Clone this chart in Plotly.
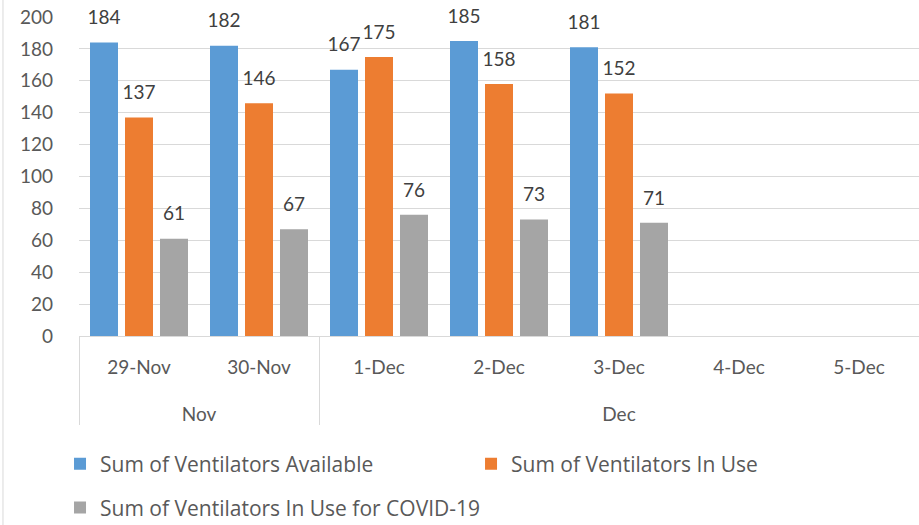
import plotly.graph_objects as go

months = ["Nov", "Nov", "Dec", "Dec", "Dec", "Dec", "Dec"]
days = ["29-Nov", "30-Nov", "1-Dec", "2-Dec", "3-Dec", "4-Dec", "5-Dec"]
available = [184, 182, 167, 185, 181, None, None]
in_use = [137, 146, 175, 158, 152, None, None]
covid = [61, 67, 76, 73, 71, None, None]

series = [
    ("Sum of Ventilators Available", available, "#5b9bd5", "legend"),
    ("Sum of Ventilators In Use", in_use, "#ed7d31", "legend2"),
    ("Sum of Ventilators In Use for COVID-19", covid, "#a5a5a5", "legend3"),
]

FONT = "Lato"
LEGFONT = "Open Sans"
SPAN = "<span style='font-size:19px'>{}</span>"
day_labels = [SPAN.format(d) + "<br> " for d in days]
month_labels = [SPAN.format(m) for m in months]
x_cats = [month_labels, day_labels]

fig = go.Figure()
for i, (name, vals, color, leg) in enumerate(series):
    fig.add_trace(go.Bar(
        x=x_cats, y=vals, name=name, legend=leg, offsetgroup=str(i),
        marker=dict(color=color, line=dict(width=0)),
        hoverinfo="skip",
    ))
for i, (name, vals, color, leg) in enumerate(series):
    fig.add_trace(go.Scatter(
        x=x_cats, y=vals, mode="markers+text", showlegend=False,
        offsetgroup=str(i),
        marker=dict(size=20, color="rgba(0,0,0,0)"),
        text=[str(v) if v is not None else "" for v in vals],
        textposition="top center", cliponaxis=False, hoverinfo="skip",
        textfont=dict(family=FONT, size=19, color="#404040"),
    ))

legfont = dict(family=LEGFONT, size=21, color="#595959")
fig.update_layout(
    width=919, height=525,
    margin=dict(l=79, r=0, t=17, b=189, autoexpand=False),
    paper_bgcolor="white", plot_bgcolor="white",
    barmode="group", bargap=0.125, bargroupgap=0.2,
    scattermode="group", scattergap=0.125,
    font=dict(family=FONT, size=19, color="#595959"),
    showlegend=True,
    legend=dict(orientation="h", x=-0.0226, xanchor="left",
                yref="container", y=0.155, yanchor="top",
                font=legfont, itemsizing="constant"),
    legend2=dict(orientation="h", x=0.4667, xanchor="left",
                 yref="container", y=0.155, yanchor="top",
                 font=legfont, itemsizing="constant"),
    legend3=dict(orientation="h", x=-0.0226, xanchor="left",
                 yref="container", y=0.0716, yanchor="top",
                 font=legfont, itemsizing="constant"),
    xaxis=dict(type="multicategory", showline=True, linecolor="#d9d9d9", linewidth=1,
               showdividers=True, dividercolor="#d9d9d9", dividerwidth=1,
               ticks="", ticklabelstandoff=9,
               tickfont=dict(family=FONT, size=23, color="#595959")),
    yaxis=dict(range=[0, 200], dtick=20, showgrid=True, gridcolor="#d9d9d9",
               zeroline=False, showline=False, ticks="", ticklabelstandoff=25,
               tickfont=dict(family=FONT, size=19, color="#595959")),
)
fig.add_shape(type="line", xref="paper", yref="paper", x0=-0.0905, x1=-0.0905,
              y0=1.06, y1=-0.6, line=dict(color="#d9d9d9", width=1))

fig.write_html("out.html", config={"displayModeBar": False},
               post_script="document.body.style.margin='0px';")
